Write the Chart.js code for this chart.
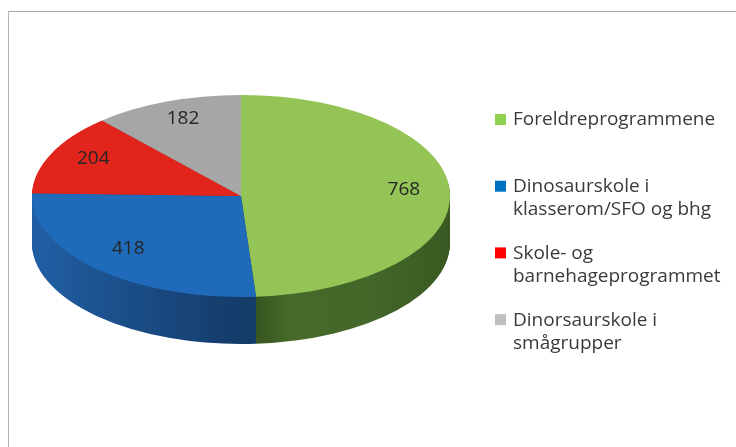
<!DOCTYPE html>
<html>
<head>
<meta charset="utf-8">
<script src="https://cdn.jsdelivr.net/npm/chart.js@4"></script>
<style>
  body { margin: 0; background: #fff; }
  #wrap { position: relative; width: 736px; height: 447px; overflow: hidden; }
  #frame { position: absolute; left: 8px; top: 11px; width: 740px; height: 450px;
           border-top: 1px solid #a6a6a6; border-left: 1px solid #b4b4b4; }
  canvas { position: absolute; left: 0; top: 0; }
</style>
</head>
<body>
<div id="wrap">
  <div id="frame"></div>
  <canvas id="pie" width="736" height="447"></canvas>
</div>
<script>
// ===== Data =====
const categories = [
    ["Foreldreprogrammene"],
    ["Dinosaurskole i", "klasserom/SFO og bhg"],
    ["Skole- og", "barnehageprogrammet"],
    ["Dinorsaurskole i", "smågrupper"]
];
const values = [768, 418, 204, 182];

const topColors = ["#93c455", "#1f6bb9", "#e1241c", "#a6a6a6"];
const legendColors = ["#92d050", "#0070c0", "#ff0000", "#bfbfbf"];

// ===== 3D look =====
const CX = 241, CY = 196;      // screen centre of top face
const K = 101 / 209;           // vertical squash
const DEPTH = 47;
const FONT = "19px 'Open Sans'";

function sideFill(ctx, i, x, r) {
    const g = ctx.createLinearGradient(x - r, 0, x + r, 0);
    if (i === 0) {
        g.addColorStop(0.5, "#314d1b");
        g.addColorStop(0.62, "#476a2a");
        g.addColorStop(0.8, "#44672a");
        g.addColorStop(1, "#3a5922");
    } else if (i === 1) {
        g.addColorStop(0, "#215fa5");
        g.addColorStop(0.2, "#1b508c");
        g.addColorStop(0.5, "#153b69");
    } else if (i === 2) {
        g.addColorStop(0, "#9c1812");
        g.addColorStop(1, "#9c1812");
    } else {
        g.addColorStop(0, "#777");
        g.addColorStop(1, "#777");
    }
    return g;
}

function withFill(el, fill, ctx) {
    const orig = el.options;
    const o = Object.create(orig);
    o.backgroundColor = fill;
    el.options = o;
    el.draw(ctx);
    el.options = orig;
}

const pie3d = {
    id: "pie3d",
    beforeDatasetsDraw(chart) {
        const ctx = chart.ctx;
        const arcs = chart.getDatasetMeta(0).data;
        const x = arcs[0].x, y = arcs[0].y, r = arcs[0].outerRadius;

        // side wall: stacked layers, deepest first
        for (let d = DEPTH; d >= 1; d--) {
            ctx.save();
            ctx.translate(CX, CY + d);
            ctx.scale(1, K);
            ctx.translate(-x, -y);
            arcs.forEach((el, i) => withFill(el, sideFill(ctx, i, x, r), ctx));
            ctx.restore();
        }

        // top face drawn by the library under this transform
        ctx.save();
        ctx.translate(CX, CY);
        ctx.scale(1, K);
        ctx.translate(-x, -y);
    },
    afterDatasetsDraw(chart) {
        const ctx = chart.ctx;
        ctx.restore();

        // ===== Data labels =====
        const arcs = chart.getDatasetMeta(0).data;
        ctx.save();
        ctx.font = FONT;
        ctx.fillStyle = "#262626";
        ctx.textAlign = "center";
        ctx.textBaseline = "middle";
        arcs.forEach((el, i) => {
            const mid = (el.startAngle + el.endAngle) / 2;
            const rr = el.outerRadius * 0.78;
            const lx = CX + Math.cos(mid) * rr;
            const ly = CY + Math.sin(mid) * rr * K - 4;
            ctx.fillText(String(values[i]), lx, ly);
        });

        // ===== Legend =====
        ctx.textAlign = "left";
        const lineH = 23, step = 66.7;
        categories.forEach((lines, i) => {
            const top = 120 + i * step;
            ctx.fillStyle = legendColors[i];
            ctx.fillRect(495, top - 6, 11, 11);
            ctx.fillStyle = "#3a3a3a";
            lines.forEach((t, j) => ctx.fillText(t, 513, top + j * lineH));
        });
        ctx.restore();
    }
};

new Chart(document.getElementById("pie"), {
    type: "pie",
    data: {
        labels: categories.map(c => c.join(" ")),
        datasets: [{
            data: values,
            backgroundColor: topColors,
            borderWidth: 0,
            clip: false
        }]
    },
    options: {
        responsive: false,
        animation: false,
        events: [],
        layout: { padding: { left: 32, right: 286, top: 14, bottom: 15 } },
        plugins: {
            legend: { display: false },
            tooltip: { enabled: false }
        }
    },
    plugins: [pie3d]
});
</script>
</body>
</html>
